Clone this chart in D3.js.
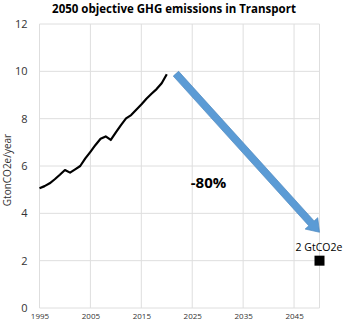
<!DOCTYPE html>
<html>
<head>
<meta charset="utf-8">
<script src="https://cdn.jsdelivr.net/npm/d3@7/dist/d3.min.js"></script>
<style>
body { margin: 0; background: #fff; }
text { font-family: "Open Sans", "Noto Sans", sans-serif; }
</style>
</head>
<body>
<div id="chart-area"></div>
<script>
// Data
var years = [1995, 1996, 1997, 1998, 1999, 2000, 2001, 2002, 2003, 2004, 2005, 2006, 2007,
             2008, 2009, 2010, 2011, 2012, 2013, 2014, 2015, 2016, 2017, 2018, 2019, 2020];
var emissions = [5.06, 5.15, 5.27, 5.44, 5.63, 5.83, 5.72, 5.86, 6.0, 6.32, 6.6, 6.89, 7.15,
                 7.25, 7.1, 7.42, 7.73, 8.01, 8.15, 8.38, 8.6, 8.84, 9.05, 9.25, 9.5, 9.88];
var xTicks = [1995, 2005, 2015, 2025, 2035, 2045];
var yTicks = [0, 2, 4, 6, 8, 10, 12];
var targetYear = [2050];
var targetValue = [2];
var arrowFrom = [2021.8, 9.9];
var arrowTo = [2050, 3.2];
var reductionLabel = { year: 2028.2, value: 5.05, text: "-80%" };

var margin = { left: 39.5, right: 24.5, top: 24, bottom: 18 },
    width = 344 - margin.left - margin.right,
    height = 326 - margin.top - margin.bottom;

var svg = d3.select("#chart-area").append("svg")
    .attr("width", 344)
    .attr("height", 326);

// Title
svg.append("text")
    .attr("x", 174)
    .attr("y", 13)
    .attr("text-anchor", "middle")
    .attr("font-size", "11.5px")
    .attr("font-weight", "bold")
    .attr("fill", "#000")
    .text("2050 objective GHG emissions in Transport");

var g = svg.append("g")
    .attr("transform", "translate(" + margin.left + "," + margin.top + ")");

// Scales
var x = d3.scaleLinear().domain([1995, 2050]).range([0, width]);
var y = d3.scaleLinear().domain([0, 12]).range([height, 0]);

// Gridlines
g.append("g").selectAll("line")
    .data(yTicks)
    .enter().append("line")
    .attr("x1", 0).attr("x2", width)
    .attr("y1", d => y(d)).attr("y2", d => y(d))
    .attr("stroke", "#dedede").attr("stroke-width", 1);

g.append("g").selectAll("line")
    .data(xTicks.concat([2050]))
    .enter().append("line")
    .attr("x1", d => x(d)).attr("x2", d => x(d))
    .attr("y1", 0).attr("y2", height)
    .attr("stroke", "#dedede").attr("stroke-width", 1);

// Axes (labels only)
var yAxis = g.append("g")
    .call(d3.axisLeft(y).tickValues(yTicks).tickSize(0).tickPadding(12));
yAxis.select(".domain").remove();
yAxis.selectAll("text").attr("font-size", "11px").attr("fill", "#333");

var xAxis = g.append("g")
    .attr("transform", "translate(0," + height + ")")
    .call(d3.axisBottom(x).tickValues(xTicks).tickFormat(d3.format("d")).tickSize(0).tickPadding(5));
xAxis.select(".domain").remove();
xAxis.selectAll("text").attr("font-size", "8px").attr("fill", "#333");

// Y-axis title
svg.append("text")
    .attr("transform", "translate(10.5," + 170 + ") rotate(-90)")
    .attr("text-anchor", "middle")
    .attr("font-size", "10px")
    .attr("fill", "#333")
    .text("GtonCO2e/year");

// Historical line
var line = d3.line()
    .x((d, i) => x(years[i]))
    .y(d => y(d));

g.append("path")
    .datum(emissions)
    .attr("fill", "none")
    .attr("stroke", "#000")
    .attr("stroke-width", 2.2)
    .attr("stroke-linejoin", "round")
    .attr("d", line);

// Arrow from today to 2050
var x0 = x(arrowFrom[0]), y0 = y(arrowFrom[1]),
    x1 = x(arrowTo[0]), y1 = y(arrowTo[1]);
var len = Math.hypot(x1 - x0, y1 - y0),
    ux = (x1 - x0) / len, uy = (y1 - y0) / len,
    px = -uy, py = ux;
var sw = 3.6, hw = 8.5, hl = 12;
var bx = x1 - ux * hl, by = y1 - uy * hl;
var arrowPts = [
    [x0 + px * sw, y0 + py * sw],
    [bx + px * sw, by + py * sw],
    [bx + px * hw, by + py * hw],
    [x1, y1],
    [bx - px * hw, by - py * hw],
    [bx - px * sw, by - py * sw],
    [x0 - px * sw, y0 - py * sw]
];
g.append("path")
    .attr("d", d3.line()(arrowPts) + "Z")
    .attr("fill", "#5b9bd5")
    .attr("stroke", "#4a86bf")
    .attr("stroke-width", 0.7);

// -80% label
g.append("text")
    .attr("x", x(reductionLabel.year))
    .attr("y", y(reductionLabel.value))
    .attr("text-anchor", "middle")
    .attr("font-size", "15px")
    .attr("font-weight", "bold")
    .attr("fill", "#000")
    .text(reductionLabel.text);

// 2050 target marker
g.selectAll(".target")
    .data(targetValue)
    .enter().append("rect")
    .attr("class", "target")
    .attr("x", (d, i) => x(targetYear[i]) - 5)
    .attr("y", d => y(d) - 5)
    .attr("width", 10)
    .attr("height", 10)
    .attr("fill", "#000");

g.selectAll(".target-label")
    .data(targetValue)
    .enter().append("text")
    .attr("class", "target-label")
    .attr("x", (d, i) => x(targetYear[i]) - 0.5)
    .attr("y", d => y(d) - 10)
    .attr("text-anchor", "middle")
    .attr("font-size", "10.5px")
    .attr("fill", "#000")
    .text(d => d + " GtCO2e");
</script>
</body>
</html>
